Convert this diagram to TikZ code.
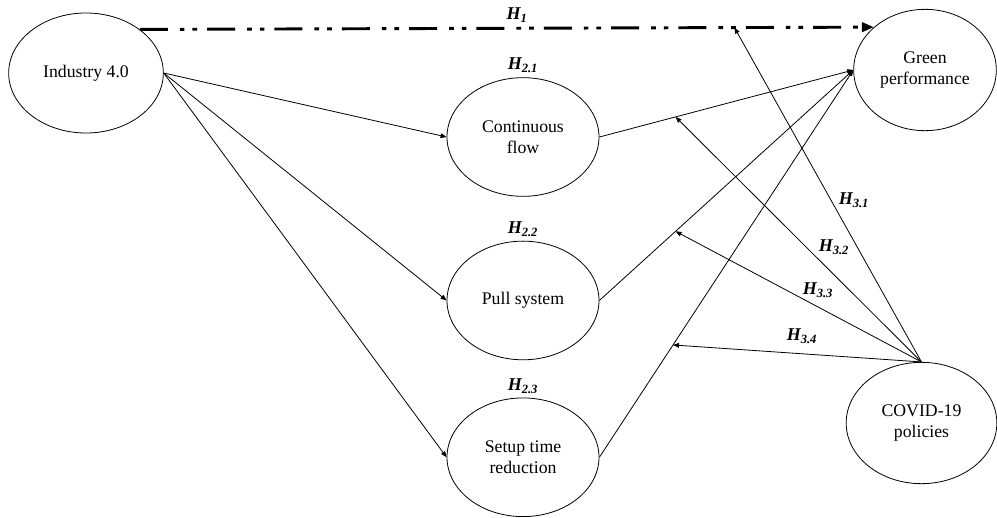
\documentclass[tikz,border=0pt]{standalone}
\usepackage{fontspec}
\setmainfont{Liberation Serif}
\usetikzlibrary{shapes.geometric,arrows.meta,positioning}
\tikzset{
  varnode/.style={ellipse,draw=black,line width=0.6pt,align=center,
                  font=\fontsize{13.3}{15.5}\selectfont,inner sep=0pt,
                  minimum width=114pt,minimum height=89pt},
  hlab/.style={font=\fontsize{13.5}{16}\selectfont\bfseries\itshape,
               inner sep=1pt},
  arr/.style={-{Triangle[length=4.5pt,width=3.5pt]},line width=0.6pt,color=black},
  dirarr/.style={-{Triangle[length=9pt,width=7pt]},line width=2.2pt,
                 dash pattern=on 21pt off 9pt on 3.5pt off 6pt on 3.5pt off 7.5pt}
}
\begin{document}
\begin{tikzpicture}[x=0.75pt,y=-0.75pt]
  \useasboundingbox (0,0) rectangle (997,518);

  % constructs
  \node[varnode,minimum width=116pt,minimum height=90pt] (ind) at (86,73) {Industry 4.0};
  \node[varnode] (cf) at (523,137) {Continuous\\flow};
  \node[varnode,below=33pt of cf] (ps) {Pull system};
  \node[varnode,below=28pt of ps] (st) {Setup time\\reduction};
  \node[varnode,minimum width=107pt,minimum height=91pt] (gp) at (925,70) {Green\\performance};
  \node[varnode,minimum width=113pt,minimum height=91pt] (cv) at (921.5,423) {COVID-19\\policies};

  % direct effect
  \draw[dirarr] (ind.39.5) -- coordinate[pos=0.81] (m0) (gp.140);

  % mediation paths
  \foreach \t in {cf,ps,st}
    \draw[arr] (ind.east) -- (\t.west);
  \draw[arr] (cf.east) -- coordinate[pos=0.3] (m1) (gp.west);
  \draw[arr] (ps.east) -- coordinate[pos=0.3] (m2) (gp.west);
  \draw[arr] (st.east) -- coordinate[pos=0.29] (m3) (gp.west);

  % moderation
  \foreach \m in {m0,m1,m2,m3}
    \draw[arr] (cv.north) -- (\m);

  % hypotheses
  \node[hlab] (h1) at (517,15) {H\textsubscript{1}};
  \node[hlab,above=2pt of cf] (h21) {H\textsubscript{2.1}};
  \node[hlab,above=2pt of ps] (h22) {H\textsubscript{2.2}};
  \node[hlab,above=2pt of st] (h23) {H\textsubscript{2.3}};
  \node[hlab] (h31) at (854,200) {H\textsubscript{3.1}};
  \node[hlab] (h32) at (834,247) {H\textsubscript{3.2}};
  \node[hlab] (h33) at (818,290) {H\textsubscript{3.3}};
  \node[hlab] (h34) at (802,336) {H\textsubscript{3.4}};

\end{tikzpicture}
\end{document}
